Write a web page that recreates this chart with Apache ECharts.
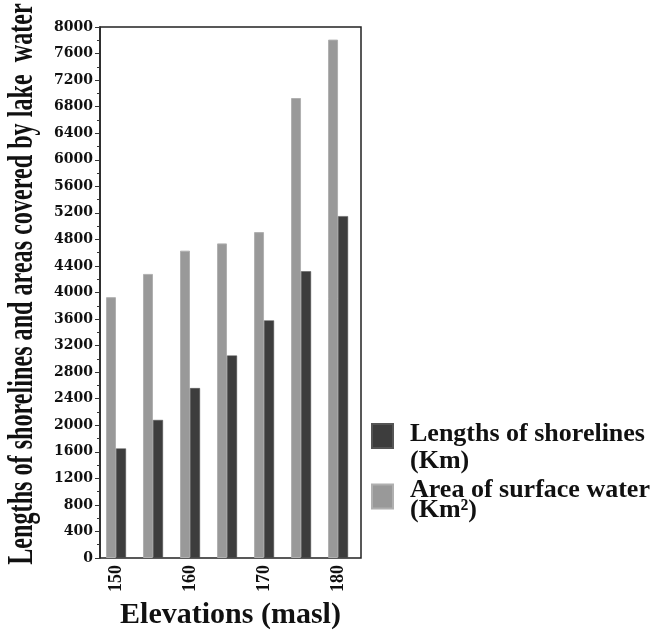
<!DOCTYPE html>
<html>
<head>
<meta charset="utf-8">
<script src="https://cdn.jsdelivr.net/npm/echarts@6/dist/echarts.min.js"></script>
<style>html,body{margin:0;padding:0;background:#fff;}#c{width:652px;height:631px;}</style>
</head>
<body>
<div id="c"></div>
<script>
const elevations = [150, 155, 160, 165, 170, 175, 180];
const shorelineLengths = [1650, 2080, 2560, 3050, 3580, 4320, 5150];
const surfaceArea = [3930, 4280, 4630, 4740, 4910, 6930, 7810];
const xTickLabels = [150, 160, 170, 180];

const serif = '"Liberation Serif", "Times New Roman", serif';
const chart = echarts.init(document.getElementById('c'));
const legendRich = (bottomPad) => ({
  t: { fontFamily: serif, fontWeight: 'bold', fontSize: 26, color: '#111', padding: [0, 0, bottomPad, 12] }
});
chart.setOption({
  backgroundColor: '#fff',
  animation: false,
  grid: { left: 100, top: 27, width: 261, height: 531, outerBoundsMode: 'none', containLabel: false, show: true, borderColor: '#222', borderWidth: 1.5, backgroundColor: 'transparent' },
  legend: [
    { orient: 'vertical', left: 371, top: 421, padding: 0, itemWidth: 21, itemHeight: 24, icon: 'rect',
      data: ['Lengths of shorelines'], formatter: n => '{t|' + n + '}',
      textStyle: { rich: legendRich(4) } },
    { orient: 'vertical', left: 371, top: 477, padding: 0, itemWidth: 21, itemHeight: 24, icon: 'rect',
      data: ['Area of surface water'], formatter: n => '{t|' + n + '}',
      textStyle: { rich: legendRich(13) } }
  ],
  xAxis: {
    type: 'value', min: 147.84, max: 183.1,
    axisLine: { show: false }, axisTick: { show: false }, splitLine: { show: false },
    axisLabel: { customValues: xTickLabels, rotate: 90, fontFamily: serif, fontWeight: 'bold', fontSize: 18, color: '#111', margin: 7 },
    name: 'Elevations (masl)', nameLocation: 'middle', nameGap: 40,
    nameTextStyle: { fontFamily: serif, fontWeight: 'bold', fontSize: 30, color: '#111' }
  },
  yAxis: {
    type: 'value', min: 0, max: 8000, interval: 400,
    axisLine: { show: true, lineStyle: { color: '#222', width: 1.5 } },
    axisTick: { show: true, length: 5, lineStyle: { color: '#333' } },
    minorTick: { show: true, splitNumber: 2, length: 3, lineStyle: { color: '#333' } },
    splitLine: { show: false },
    axisLabel: { formatter: v => String(v), fontFamily: '"DejaVu Serif", serif', fontWeight: 'bold', fontSize: 14, color: '#111', margin: 7 }
  },
  graphic: [
    { type: 'text', x: 23, y: 284, rotation: Math.PI / 2, scaleX: 0.69, scaleY: 1,
      style: { text: 'Lengths of shorelines and areas covered by lake  water', font: 'bold 35px ' + serif, fill: '#111', align: 'center', verticalAlign: 'middle' } },
    { type: 'text', x: 410, y: 461.5, style: { text: '(Km)', font: 'bold 26px ' + serif, fill: '#111', verticalAlign: 'middle' } },
    { type: 'text', x: 410, y: 510, style: { text: '(Km²)', font: 'bold 26px ' + serif, fill: '#111', verticalAlign: 'middle' } }
  ],
  series: [
    { name: 'Area of surface water', type: 'bar', barWidth: 10, barGap: '0%',
      itemStyle: { color: '#999999', borderColor: '#b0b0b0', borderWidth: 1 },
      data: elevations.map((e, i) => [e, surfaceArea[i]]) },
    { name: 'Lengths of shorelines', type: 'bar', barWidth: 10, barGap: '0%',
      itemStyle: { color: '#3d3d3d', borderColor: '#555', borderWidth: 0.5 },
      data: elevations.map((e, i) => [e, shorelineLengths[i]]) }
  ]
});
</script>
</body>
</html>
